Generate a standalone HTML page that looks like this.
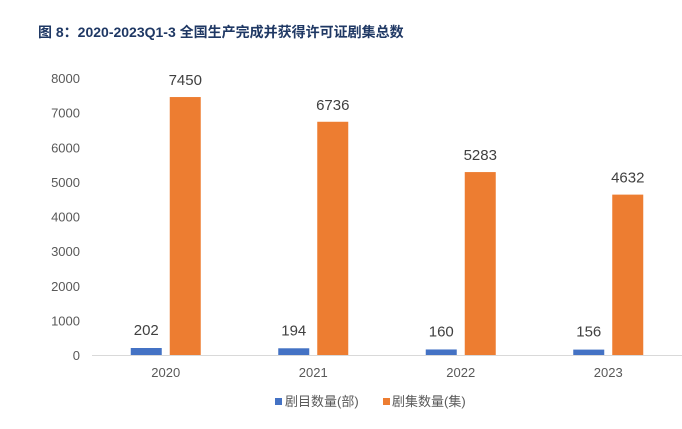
<!DOCTYPE html>
<html><head><meta charset="utf-8"><style>
body{margin:0;background:#fff;font-family:"Liberation Sans","Noto Sans CJK SC",sans-serif;}
#wrap{position:relative;width:682px;height:429px;overflow:hidden;}
#title{position:absolute;left:38px;top:22px;font-size:14px;font-weight:bold;color:#1f3864;white-space:nowrap;}
</style></head><body>
<div id="wrap">
<div id="title">图 8：2020-2023Q1-3 全国生产完成并获得许可证剧集总数</div>
<svg id="chart" width="682" height="429" style="position:absolute;left:0;top:0"></svg>
</div>
<script>
const categories=["2020","2021","2022","2023"];
const seriesDramas=[202,194,160,156];
const seriesEpisodes=[7450,6736,5283,4632];
const yTicks=[0,1000,2000,3000,4000,5000,6000,7000,8000];
const NS="http://www.w3.org/2000/svg";
const svg=document.getElementById('chart');
const y0=355,yTop=78,yMax=8000,x0=92,x1=682;
function y(v){return y0-(v/yMax)*(y0-yTop);}
function xc(i){return x0+(x1-x0)/categories.length*(i+0.5);}
function mk(t,a,txt){const e=document.createElementNS(NS,t);for(const k in a)e.setAttribute(k,a[k]);if(txt!==undefined)e.textContent=txt;svg.appendChild(e);return e;}
yTicks.forEach(v=>{
 const t=mk('text',{x:80,y:y(v)+5,'text-anchor':'end','font-size':13,fill:'#595959'},String(v));
 
 
});
const ax=mk('line',{x1:x0,x2:x1,y1:y0+0.5,y2:y0+0.5,stroke:'#d9d9d9','stroke-width':1});


categories.forEach((c,i)=>{
 const cx=xc(i);
 const b=mk('rect',{x:cx-35,y:y(seriesDramas[i]),width:31,height:y0-y(seriesDramas[i]),fill:'#4472c4'});
 
 
 const o=mk('rect',{x:cx+4,y:y(seriesEpisodes[i]),width:31,height:y0-y(seriesEpisodes[i]),fill:'#ed7d31'});
 
 
 const l1=mk('text',{x:cx-19.5,y:y(seriesDramas[i])-13,'text-anchor':'middle','font-size':15,fill:'#404040'},String(seriesDramas[i]));
 
 
 const l2=mk('text',{x:cx+19.5,y:y(seriesEpisodes[i])-12,'text-anchor':'middle','font-size':15,fill:'#404040'},String(seriesEpisodes[i]));
 
 
 const xl=mk('text',{x:cx,y:377,'text-anchor':'middle','font-size':13,fill:'#595959'},c);
 
 
});
const s1=mk('rect',{x:275,y:398,width:7,height:7,fill:'#4472c4'});


const t1=mk('text',{x:285,y:406,'font-size':13,fill:'#595959'},'剧目数量(部)');


const s2=mk('rect',{x:383,y:398,width:7,height:7,fill:'#ed7d31'});


const t2=mk('text',{x:392,y:406,'font-size':13,fill:'#595959'},'剧集数量(集)');


</script>
</body></html>
